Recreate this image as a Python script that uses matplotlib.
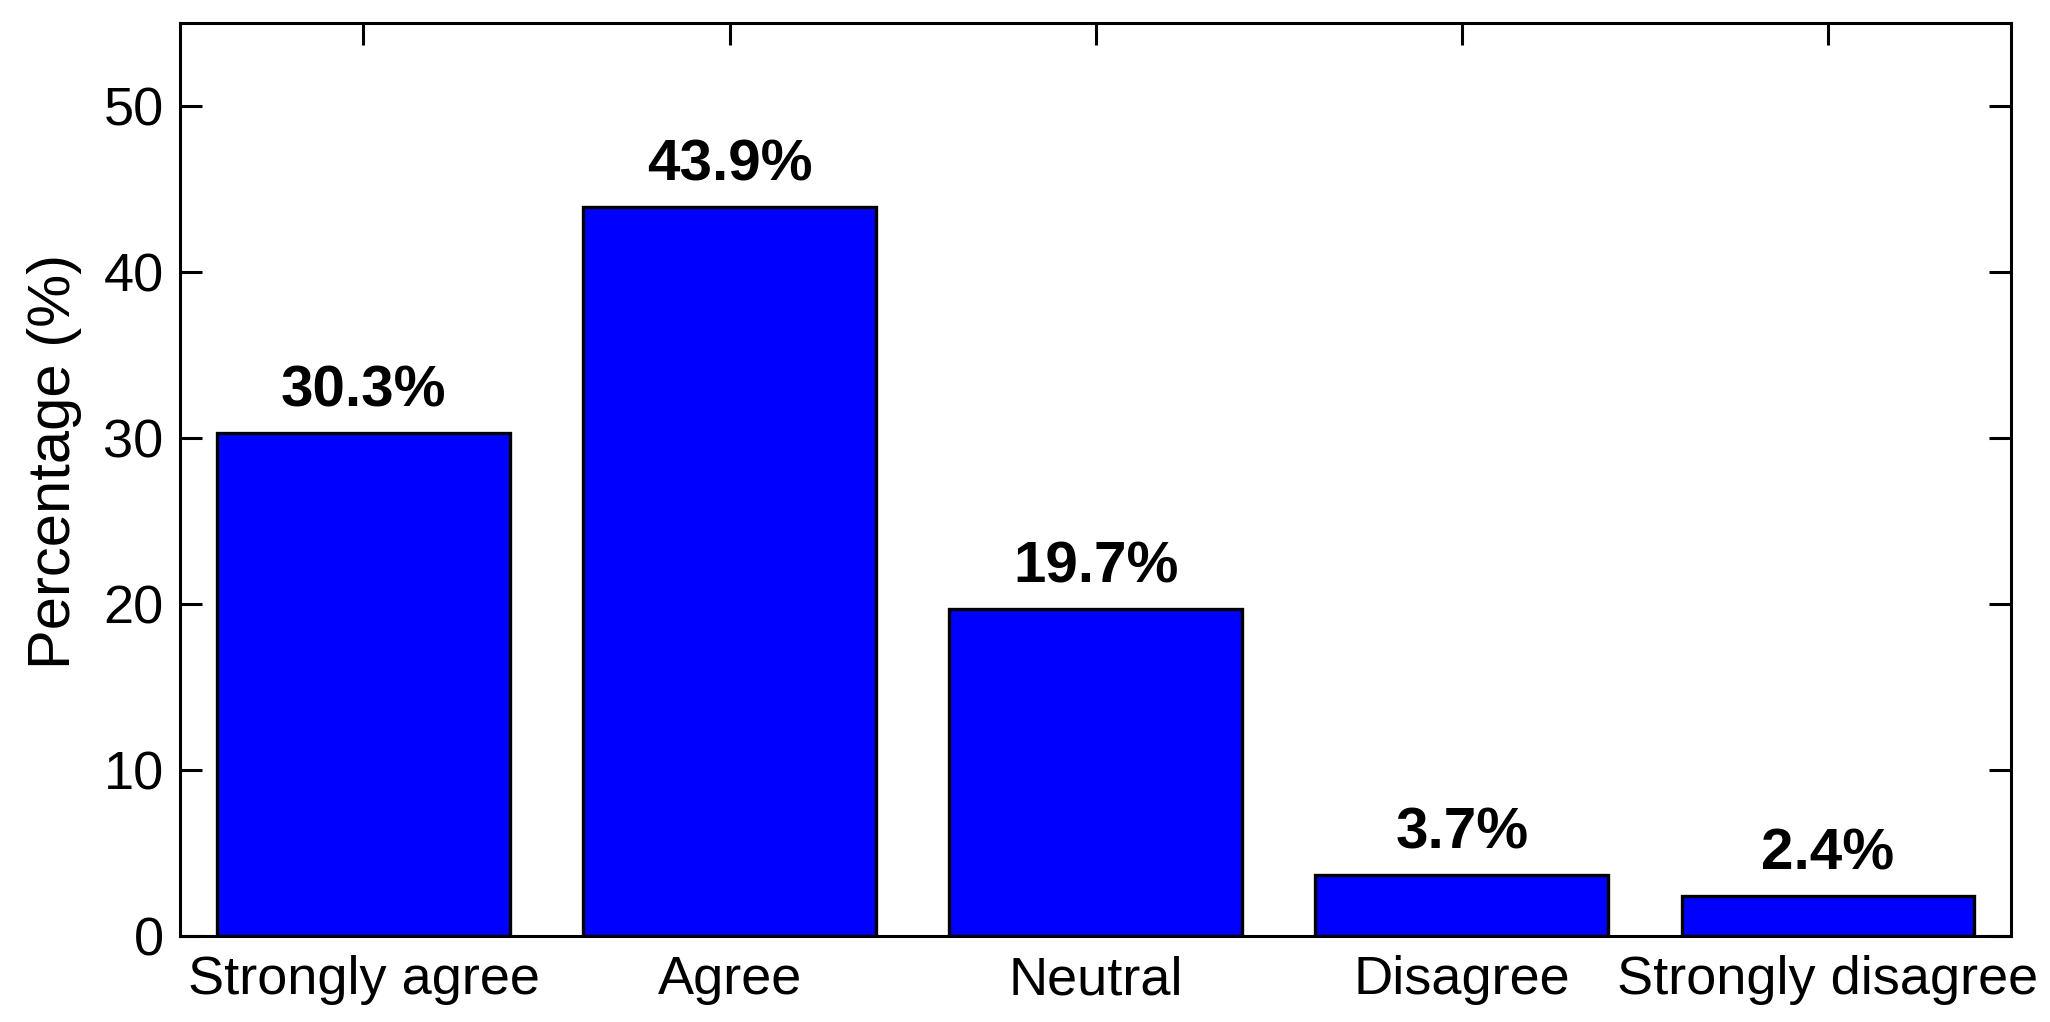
import matplotlib
matplotlib.use("Agg")
import matplotlib.pyplot as plt
import numpy as np

categories = ["Strongly agree", "Agree", "Neutral", "Disagree", "Strongly disagree"]
percentages = [30.3, 43.9, 19.7, 3.7, 2.4]
bar_labels = ["30.3%", "43.9%", "19.7%", "3.7%", "2.4%"]
y_ticks = [0, 10, 20, 30, 40, 50]

plt.rcParams['font.family'] = ['Liberation Sans', 'DejaVu Sans']

fig = plt.figure(figsize=(20.5, 10.22), dpi=100)
ax = fig.add_axes([0.0880, 0.0842, 0.8930, 0.8930])

x = np.arange(1, len(categories) + 1)
ax.bar(x, percentages, width=0.8, color=(0, 0, 1), edgecolor='black', linewidth=2.4, zorder=2)

for xi, v, lab in zip(x, percentages, bar_labels):
    ax.text(xi, v + 1.6, lab, ha='center', va='baseline', fontsize=42, fontweight='bold')

ax.set_xlim(0.5, 5.5)
ax.set_ylim(0, 55)
ax.set_xticks(x)
ax.set_xticklabels(categories)
ax.set_yticks(y_ticks)

ax.tick_params(axis='both', which='major', direction='in', length=16, width=2.2,
               labelsize=39, top=True, right=True, color='black')
ax.tick_params(axis='x', pad=14)
ax.tick_params(axis='y', pad=12)
for s in ax.spines.values():
    s.set_linewidth(2.2)

ax.set_ylabel("Percentage (%)", fontsize=43)
ax.yaxis.set_label_coords(-0.054, 0.52)

fig.savefig("out.png", dpi=100)
